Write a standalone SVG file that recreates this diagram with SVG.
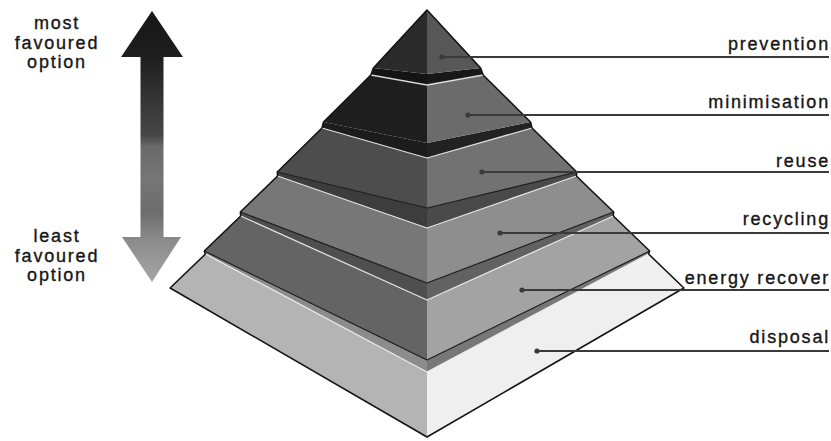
<svg xmlns="http://www.w3.org/2000/svg" width="831" height="441" viewBox="0 0 831 441">
<defs>
<linearGradient id="arrowGrad" gradientUnits="userSpaceOnUse" x1="0" y1="11" x2="0" y2="282">
<stop offset="0" stop-color="#151515"/>
<stop offset="0.18" stop-color="#1f1f1f"/>
<stop offset="0.33" stop-color="#363636"/>
<stop offset="0.46" stop-color="#474747"/>
<stop offset="0.5" stop-color="#6a6a6a"/>
<stop offset="0.62" stop-color="#767676"/>
<stop offset="0.74" stop-color="#6c6c6c"/>
<stop offset="0.85" stop-color="#8c8c8c"/>
<stop offset="1" stop-color="#a6a6a6"/>
</linearGradient>
<marker id="dot" viewBox="0 0 6 6" refX="3" refY="3" markerWidth="6" markerHeight="6" markerUnits="userSpaceOnUse">
<circle cx="3" cy="3" r="2.6" fill="#3a3a3a"/>
</marker>
</defs>
<style>
.txt{font-family:"Liberation Sans",Arial,sans-serif;font-size:18px;fill:#161616;stroke:#161616;stroke-width:0.35px;letter-spacing:1.8px}
.lbl{text-anchor:end}
.side{text-anchor:middle}
.edge{fill:none;stroke:#141414;stroke-width:1.6;stroke-linejoin:round}
.bot{fill:none;stroke:#1a1a1a;stroke-width:1.2;stroke-linejoin:round}
.hi{fill:none;stroke:#f2f2f2;stroke-width:1.3;stroke-opacity:0.85;stroke-linejoin:round}
.lead{fill:none;stroke:#3a3a3a;stroke-width:2;marker-start:url(#dot)}
</style>
<rect width="831" height="441" fill="#ffffff"/>

<g id="favour-arrow">
<path d="M152,11 L183,57 L163.5,57 L163.5,237 L181,237 L152,282 L122,237 L140.5,237 L140.5,57 L121,57 Z" fill="url(#arrowGrad)"/>
<text class="txt side" x="57" y="29">most</text>
<text class="txt side" x="57" y="49">favoured</text>
<text class="txt side" x="57" y="68">option</text>
<text class="txt side" x="57" y="242">least</text>
<text class="txt side" x="57" y="262">favoured</text>
<text class="txt side" x="57" y="281">option</text>
</g>

<g id="layer-disposal">
<polygon points="205.5,254 427,372 427,437 170.1,288" fill="#b4b4b4"/>
<polygon points="648.5,254 427,372 427,437 683.9,288" fill="#efefef"/>
<polygon points="204.3,251 427,360 427,372 205.5,254" fill="#8c8c8c"/>
<polygon points="649.7,251 427,360 427,372 648.5,254" fill="#777777"/>
<polyline class="hi" points="205.5,254 427,372 648.5,254"/>
<polyline class="edge" points="205.5,254 170.1,288 427,437 683.9,288 648.5,254"/>
<text class="txt lbl" x="830" y="343">disposal</text>
</g>

<g id="layer-energy-recover">
<polygon points="240.7,216 427,300 427,360 204.3,251" fill="#646464"/>
<polygon points="613.3,216 427,300 427,360 649.7,251" fill="#a3a3a3"/>
<polygon points="240.4,212 427,283 427,300 240.7,216" fill="#4f4f4f"/>
<polygon points="613.6,212 427,283 427,300 613.3,216" fill="#626262"/>
<polyline class="hi" points="240.7,216 427,300 613.3,216"/>
<polyline class="bot" points="204.3,251 427,360 649.7,251"/>
<polyline class="edge" points="240.7,216 204.3,251 205.5,254"/>
<polyline class="edge" points="613.3,216 649.7,251 648.5,254"/>
<text class="txt lbl" x="830" y="284">energy recover</text>
</g>

<g id="layer-recycling">
<polygon points="277.6,176 427,228 427,283 240.4,212" fill="#777777"/>
<polygon points="576.4,176 427,228 427,283 613.6,212" fill="#8e8e8e"/>
<polygon points="277.3,172 427,208 427,228 277.6,176" fill="#3d3d3d"/>
<polygon points="576.7,172 427,208 427,228 576.4,176" fill="#4a4a4a"/>
<polyline class="hi" points="277.6,176 427,228 576.4,176"/>
<polyline class="bot" points="240.4,212 427,283 613.6,212"/>
<polyline class="edge" points="277.6,176 240.4,212 240.7,216"/>
<polyline class="edge" points="576.4,176 613.6,212 613.3,216"/>
<text class="txt lbl" x="830" y="225">recycling</text>
</g>

<g id="layer-reuse">
<polygon points="322,128 427,158 427,208 277.3,172" fill="#4d4d4d"/>
<polygon points="532,128 427,158 427,208 576.7,172" fill="#727272"/>
<polygon points="323.5,122 427,143 427,158 322,128" fill="#1c1c1c"/>
<polygon points="530.5,122 427,143 427,158 532,128" fill="#222222"/>
<polyline class="hi" points="322,128 427,158 532,128"/>
<polyline class="bot" points="277.3,172 427,208 576.7,172"/>
<polyline class="edge" points="322,128 277.3,172 277.6,176"/>
<polyline class="edge" points="532,128 576.7,172 576.4,176"/>
<text class="txt lbl" x="830" y="167">reuse</text>
</g>

<g id="layer-minimisation">
<polygon points="370.9,75 427,85 427,143 323.5,122" fill="#1f1f1f"/>
<polygon points="483.1,75 427,85 427,143 530.5,122" fill="#6b6b6b"/>
<polygon points="373.4,68 427,74 427,85 370.9,75" fill="#141414"/>
<polygon points="480.6,68 427,74 427,85 483.1,75" fill="#181818"/>
<polyline class="hi" points="370.9,75 427,85 483.1,75"/>
<polyline class="edge" points="370.9,75 323.5,122 322,128"/>
<polyline class="edge" points="483.1,75 530.5,122 532,128"/>
<text class="txt lbl" x="830" y="108">minimisation</text>
</g>

<g id="layer-prevention">
<polygon points="427,10 373.4,68 427,74" fill="#2b2b2b"/>
<polygon points="427,10 480.6,68 427,74" fill="#575757"/>
<polyline class="edge" points="370.9,75 373.4,68 427,10 480.6,68 483.1,75"/>
<text class="txt lbl" x="830" y="50">prevention</text>
</g>

<g id="connectors">
<line class="lead" x1="442" y1="57" x2="829" y2="57"/>
<line class="lead" x1="468" y1="115" x2="829" y2="115"/>
<line class="lead" x1="482" y1="172" x2="829" y2="172"/>
<line class="lead" x1="500" y1="233" x2="829" y2="233"/>
<line class="lead" x1="522" y1="290" x2="829" y2="290"/>
<line class="lead" x1="537" y1="351" x2="829" y2="351"/>
</g>
</svg>
